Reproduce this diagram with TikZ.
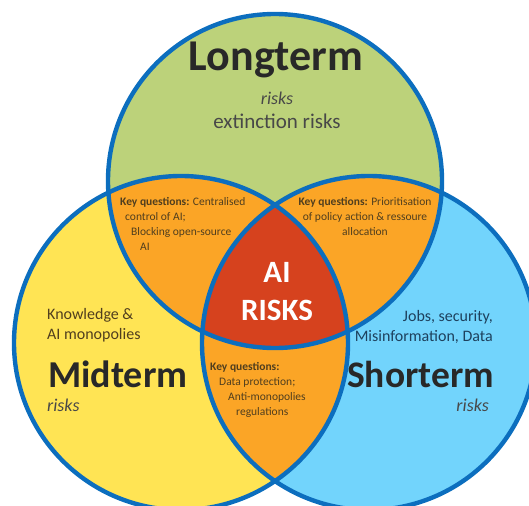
\documentclass[tikz,border=0pt]{standalone}
\usepackage{fontspec}
\setmainfont{Carlito}
\usetikzlibrary{positioning}
\definecolor{ringblue}{RGB}{12,110,190}
\definecolor{longgreen}{RGB}{188,210,122}
\definecolor{midyellow}{RGB}{255,228,84}
\definecolor{shortblue}{RGB}{114,212,252}
\definecolor{overlaporange}{RGB}{251,165,38}
\definecolor{corered}{RGB}{214,66,30}
\definecolor{titlegray}{RGB}{40,40,40}
\definecolor{notebrown}{RGB}{80,62,30}
\tikzset{
    ring/.style={draw=ringblue, line width=4.4pt},
    title/.style={font=\fontsize{38}{38}\selectfont\bfseries, text=titlegray, inner sep=0pt},
    subtitle/.style={font=\fontsize{18}{18}\selectfont\itshape, text=titlegray!85, inner sep=0pt},
    remark/.style={font=\fontsize{16}{20}\selectfont, text=notebrown, inner sep=0pt},
    question/.style={font=\fontsize{11.5}{15}\selectfont, text=notebrown, inner sep=0pt},
}

\begin{document}
\begin{tikzpicture}[x=1pt, y=-1pt]

            \useasboundingbox (0,0) rectangle (529,505);

            % Circle centres
            \coordinate (long) at (275,181);
            \coordinate (mid) at (181,343);
            \coordinate (short) at (369,343);

            % Circle fills
            \fill[longgreen] (long) circle (167);
            \fill[midyellow] (mid) circle (167);
            \fill[shortblue] (short) circle (167);

            % Pairwise overlaps
            \begin{scope}
                \clip (long) circle (167);
                \fill[overlaporange] (mid) circle (167);
                \fill[overlaporange] (short) circle (167);
            \end{scope}
            \begin{scope}
                \clip (mid) circle (167);
                \fill[overlaporange] (short) circle (167);
            \end{scope}

            % Centre overlap
            \begin{scope}
                \clip (long) circle (167);
                \clip (mid) circle (167);
                \fill[corered] (short) circle (167);
            \end{scope}

            % Outlines
            \draw[ring] (long) circle (167);
            \draw[ring] (mid) circle (167);
            \draw[ring] (short) circle (167);

            % Longterm
            \node[title, font=\fontsize{44}{44}\selectfont\bfseries] (longtitle) at (276,60) {Longterm};
            \node[subtitle] (longrisks) at (277,98) {risks};
            \node[remark, font=\fontsize{21}{21}\selectfont, text=titlegray!85] (longnote) at (277,121) {extinction risks};

            % Midterm
            \node[remark, align=left, anchor=north west] (midnote) at (47,308) {Knowledge \&\\AI monopolies};
            \node[title, anchor=west] (midtitle) at (48,374) {Midterm};
            \node[subtitle, anchor=west] (midrisks) at (47,405) {risks};

            % Shorterm
            \node[remark, align=right, anchor=north east, text=ringblue!35!titlegray] (shortnote) at (493,310) {Jobs, security,\\Misinformation, Data};
            \node[title, font=\fontsize{37.5}{38}\selectfont\bfseries, anchor=east] (shorttitle) at (494,374) {Shorterm};
            \node[subtitle, anchor=east] (shortrisks) at (489,405) {risks};

            % Key questions
            \node[question, align=left, anchor=north west] (qleft) at (120,197) {\textbf{Key questions:} Centralised\\\hspace*{5pt}control of AI;\\\hspace*{11pt}Blocking open-source\\\hspace*{20pt}AI};
            \node[question, align=center, anchor=north] (qright) at (365,197) {\textbf{Key questions:} Prioritisation\\of policy action \& ressoure\\allocation};
            \node[question, align=left, anchor=north west] (qbottom) at (210,362) {\textbf{Key questions:}\\\hspace*{9pt}Data protection;\\\hspace*{18pt}Anti-monopolies\\\hspace*{26pt}regulations};

            % Core
            \node[font=\fontsize{31}{38}\selectfont\bfseries, text=white, align=center] (core) at (277,292) {AI\\RISKS};

        \end{tikzpicture}
\end{document}
